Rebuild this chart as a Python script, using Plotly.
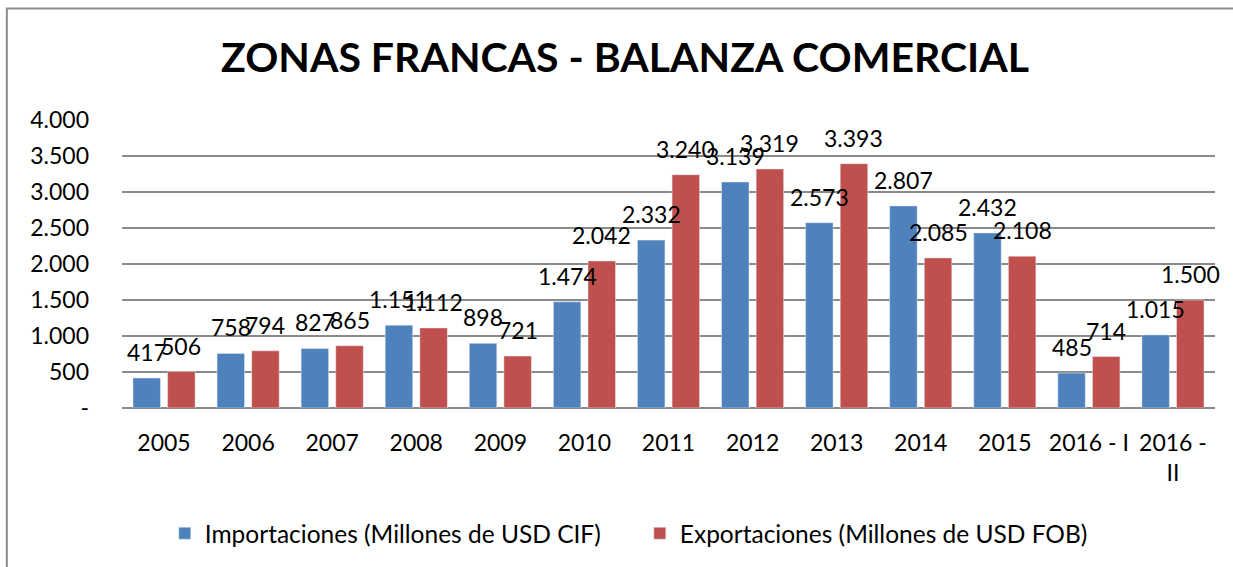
import plotly.graph_objects as go

categories = ["2005", "2006", "2007", "2008", "2009", "2010", "2011", "2012",
              "2013", "2014", "2015", "2016 - I", "2016 -<br>II"]
importaciones = [417, 758, 827, 1151, 898, 1474, 2332, 3139, 2573, 2807, 2432, 485, 1015]
exportaciones = [506, 794, 865, 1112, 721, 2042, 3240, 3319, 3393, 2085, 2108, 714, 1500]
y_ticks = [0, 500, 1000, 1500, 2000, 2500, 3000, 3500, 4000]
y_tick_labels = ["-", "500", "1.000", "1.500", "2.000", "2.500", "3.000", "3.500", "4.000"]

name_imp = "Importaciones (Millones de USD CIF)"
name_exp = "Exportaciones (Millones de USD FOB)"
title = "ZONAS FRANCAS - BALANZA COMERCIAL"

BLUE = "#4F81BD"
RED = "#C0504D"
GRID = "#8a8a8a"
FONT = "Lato"
FS = 23

W = 1233
H = 567
L, R, T, B = 121.7, 18, 119.5, 158

xs = list(range(len(categories)))
bw = 0.327
off_imp = -0.206 - bw / 2
off_exp = 0.206 - bw / 2


def fmt(v):
    return f"{v:,}".replace(",", ".")


fig = go.Figure()
fig.add_trace(go.Bar(x=xs, y=importaciones, name=name_imp, marker_color=BLUE,
                     width=bw, offset=off_imp, hoverinfo="skip"))
fig.add_trace(go.Bar(x=xs, y=exportaciones, name=name_exp, marker_color=RED,
                     width=bw, offset=off_exp, hoverinfo="skip"))

plot_h = H - T - B
plot_w = W - L - R

annotations = []
for series, off in ((importaciones, off_imp), (exportaciones, off_exp)):
    for i, v in enumerate(series):
        annotations.append(dict(
            x=xs[i] + off + bw / 2, y=v, xref="x", yref="y",
            text=fmt(v), showarrow=False, yanchor="bottom", xanchor="center",
            yshift=10, font=dict(family=FONT, size=FS, color="#000000")))

annotations.append(dict(
    x=(625 - L) / plot_w, y=(H - B - 56) / plot_h, xref="paper", yref="paper",
    text="<b>" + title + "</b>", showarrow=False,
    xanchor="center", yanchor="middle",
    font=dict(family=FONT, size=41, color="#000000")))

top_y = (H - B - 7.5) / plot_h
left_x = (6.5 - L) / plot_w
right_x = (W + 40 - L) / plot_w
bottom_y = (H - B - H - 40) / plot_h

shapes = [
    dict(type="rect", xref="paper", yref="paper", x0=left_x, x1=right_x,
         y0=bottom_y, y1=top_y, fillcolor="rgba(0,0,0,0)",
         line=dict(color="#8c8c8c", width=2), layer="below"),
]

fig.update_layout(
    width=W, height=H,
    margin=dict(l=L, r=R, t=T, b=B, pad=0),
    paper_bgcolor="white", plot_bgcolor="white",
    font=dict(family=FONT, size=FS, color="#000000"),
    barmode="overlay",
    showlegend=True,
    legend=dict(orientation="h", x=(164.5 - L) / plot_w, xanchor="left",
                y=(H - B - 533.5) / plot_h, yanchor="middle",
                font=dict(family=FONT, size=24.5, color="#000000"),
                entrywidth=430, entrywidthmode="pixels",
                bgcolor="rgba(0,0,0,0)"),
    xaxis=dict(range=[-0.5, len(categories) - 0.5], tickmode="array",
               tickvals=xs, ticktext=categories, showgrid=False, zeroline=False,
               showline=False, ticks="", ticklabelstandoff=19,
               tickfont=dict(family=FONT, size=FS, color="#000000")),
    yaxis=dict(range=[0, 4000], tickmode="array", tickvals=y_ticks,
               ticktext=y_tick_labels, showgrid=True, gridcolor=GRID, gridwidth=1.3,
               zeroline=True, zerolinecolor=GRID, zerolinewidth=1.3,
               showline=False, ticks="", ticklabelstandoff=32,
               tickfont=dict(family=FONT, size=FS, color="#000000")),
    annotations=annotations,
    shapes=shapes,
)

fig.write_html("out.html", config={"displayModeBar": False, "staticPlot": True},
               post_script=("document.documentElement.style.margin='0';"
                            "document.documentElement.style.overflow='hidden';"
                            "document.body.style.margin='0';"
                            "document.body.style.overflow='hidden';"))
